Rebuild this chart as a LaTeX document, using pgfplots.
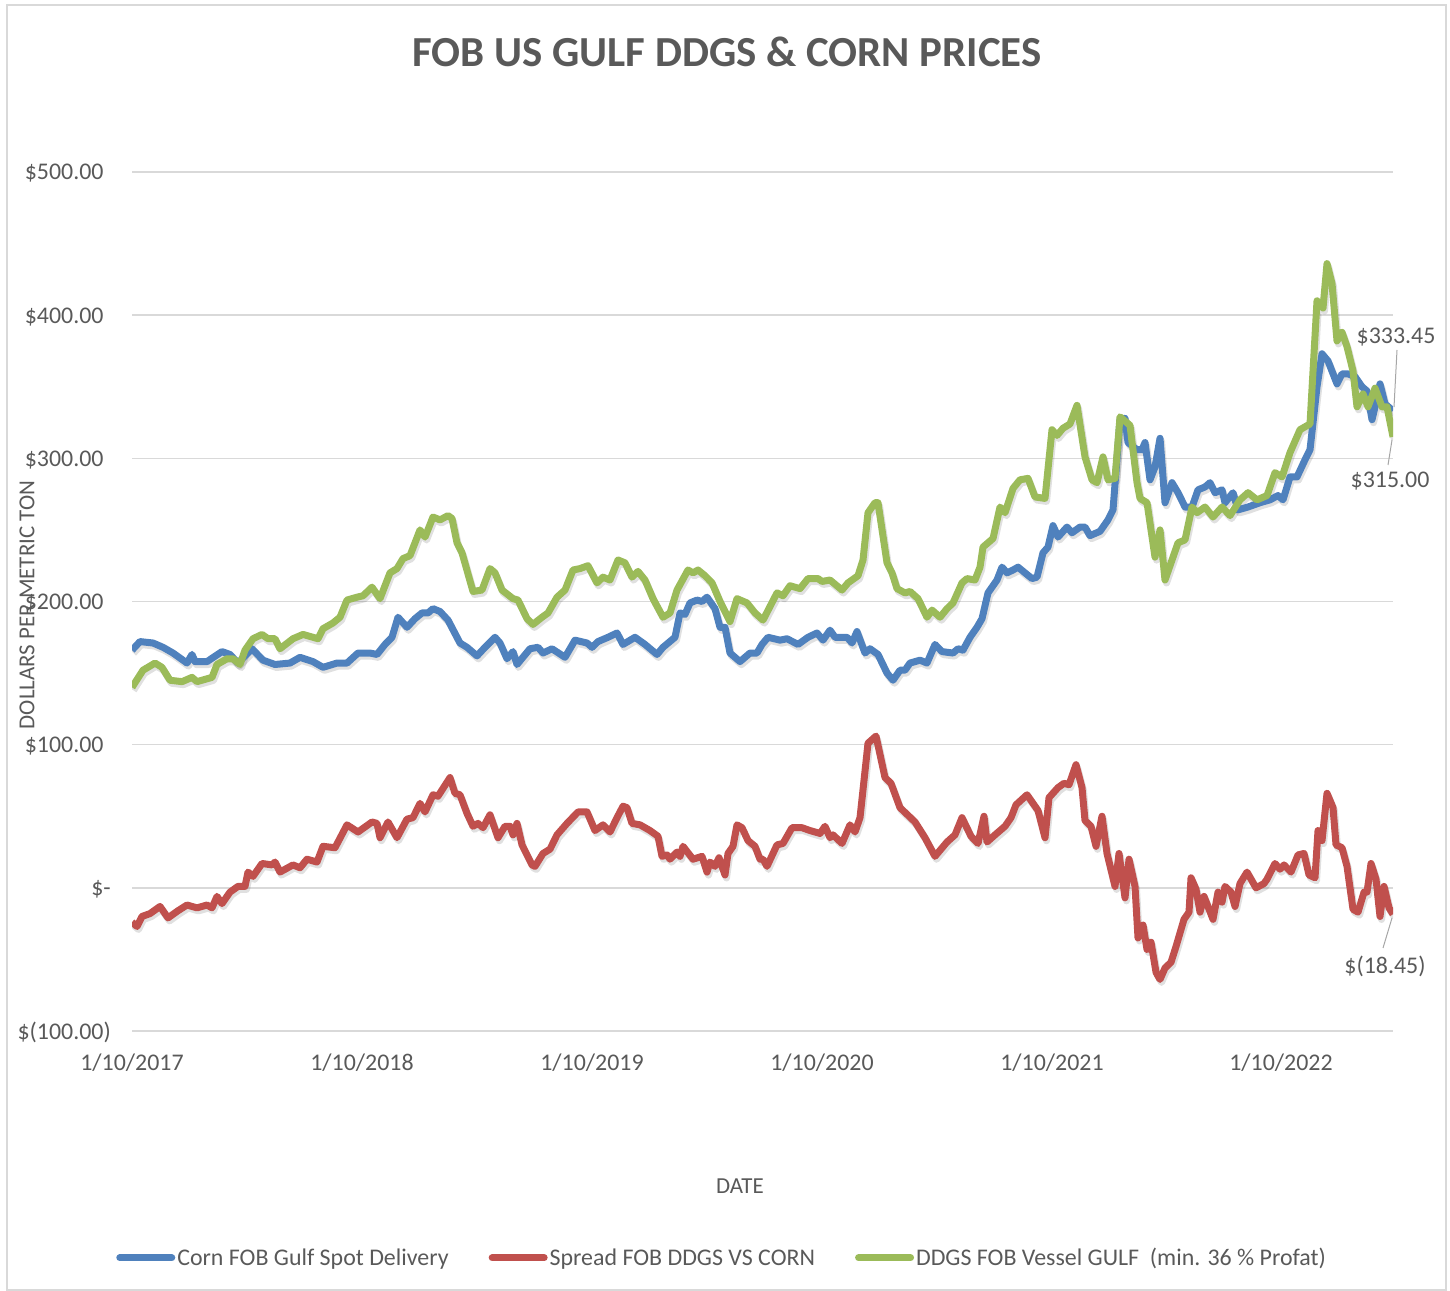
\documentclass[border=0pt]{standalone}
\usepackage{fontspec}
\setmainfont{Carlito}
\usepackage{pgfplots}
\usepackage{pgfplotstable}
\pgfplotsset{compat=1.18}
\definecolor{cornblue}{HTML}{4F81BD}
\definecolor{spreadred}{HTML}{C0504D}
\definecolor{ddgsgreen}{HTML}{9BBB59}
\definecolor{txtgray}{HTML}{595959}
\definecolor{gridgray}{HTML}{D9D9D9}

% x = horizontal position along the date axis (1/10/2017 at 132, one year = 230)
\pgfplotstableread{
x y
132 166
140 172
153 171
163 168
173 164
187 157
192 163
195 158
207 158
222 165
230 163
238 157
252 167
263 159
275 156
290 157
300 161
313 158
323 154
337 157
347 157
358 164
370 164
377 163
385 170
392 175
398 189
407 182
415 188
422 192
428 192
433 195
440 193
448 187
460 171
467 168
477 162
485 168
495 175
500 171
507 160
513 165
517 156
530 167
538 168
543 164
552 167
565 161
575 173
587 171
592 168
598 172
608 175
617 178
623 170
635 175
645 170
657 163
663 168
675 175
680 192
685 191
690 199
697 201
702 200
707 203
715 195
720 182
725 182
730 164
740 158
750 164
757 164
762 170
768 175
780 173
787 174
798 170
808 175
817 178
823 173
830 180
835 175
847 175
852 171
857 179
865 164
870 167
878 163
887 150
893 145
900 152
905 152
910 157
920 159
927 157
935 170
942 165
953 164
958 167
963 166
970 175
977 182
982 188
988 206
997 215
1002 224
1007 220
1013 222
1018 224
1032 216
1037 217
1043 234
1048 238
1053 253
1058 245
1067 252
1072 248
1080 252
1085 252
1090 246
1100 249
1108 257
1113 264
1120 327
1125 328
1128 311
1137 306
1142 306
1145 311
1150 285
1155 294
1160 314
1165 269
1172 283
1178 276
1185 266
1192 266
1198 278
1205 280
1210 283
1215 276
1222 278
1225 269
1233 276
1238 264
1248 266
1260 269
1270 271
1278 274
1283 271
1290 287
1297 287
1305 299
1310 306
1317 350
1322 373
1328 368
1337 352
1342 359
1348 359
1355 357
1362 350
1367 347
1372 327
1375 336
1380 352
1385 338
1390 335
1393 333.45
}\corn

\pgfplotstableread{
x y
132 -24
137 -27
142 -20
150 -18
160 -13
168 -21
178 -16
187 -12
197 -14
207 -12
212 -14
217 -6
222 -11
230 -3
238 1
245 1
248 11
253 8
262 17
272 16
275 18
280 11
293 16
300 14
307 20
317 18
323 29
335 28
347 44
358 39
372 46
377 45
380 35
388 46
397 35
407 48
413 49
420 59
425 53
433 65
438 64
450 77
455 66
460 65
467 52
473 43
478 45
483 42
490 51
498 35
505 43
510 43
513 37
517 45
522 30
532 16
535 15
543 24
550 27
557 37
567 45
578 53
587 53
595 40
603 44
610 39
617 49
623 57
627 56
632 45
640 44
650 40
658 36
662 22
667 23
670 20
677 25
680 22
683 29
693 20
702 22
707 11
710 18
715 15
719 21
725 9
728 24
733 29
737 44
742 42
748 33
755 29
760 20
763 20
767 15
777 30
783 31
792 42
802 42
810 40
820 38
825 43
830 35
833 37
842 31
850 44
855 39
860 49
868 101
876 106
885 77
891 73
900 56
915 46
925 35
935 22
947 32
955 37
962 49
971 36
978 31
984 50
987 32
995 37
1005 43
1011 49
1016 58
1027 65
1038 54
1045 35
1049 63
1058 70
1064 73
1069 72
1076 86
1082 70
1085 47
1091 43
1096 29
1102 50
1107 24
1115 1
1119 24
1125 -7
1129 20
1135 1
1138 -35
1143 -26
1147 -43
1151 -38
1156 -59
1160 -64
1165 -56
1171 -52
1176 -41
1184 -22
1189 -17
1191 7
1196 -1
1200 -17
1204 -6
1213 -22
1218 -3
1222 -10
1225 1
1231 -3
1235 -13
1240 3
1247 11
1256 0
1264 3
1267 6
1275 17
1280 13
1284 16
1291 11
1298 23
1304 24
1309 9
1315 7
1318 40
1322 33
1327 66
1333 56
1336 30
1342 28
1347 15
1353 -15
1358 -17
1364 -3
1367 -3
1371 17
1376 6
1380 -20
1384 1
1389 -14
1393 -18.45
}\spread

\pgfplotstableread{
x y
132 140
143 152
155 157
162 154
170 145
182 144
192 147
197 144
212 147
217 156
227 160
233 160
240 156
245 166
253 174
262 177
268 174
275 174
280 167
293 174
303 177
318 174
323 181
333 185
340 189
347 201
357 203
363 204
372 210
380 202
390 220
397 223
403 230
410 232
420 250
425 245
433 259
440 257
448 260
452 258
457 241
462 234
473 207
482 208
490 223
495 220
502 208
513 202
518 201
527 188
533 184
542 189
548 192
557 203
565 208
573 222
580 223
588 225
597 213
603 217
610 215
618 229
625 227
632 217
638 221
645 215
653 202
663 189
670 192
677 208
688 222
693 220
698 222
705 218
712 213
720 200
730 186
737 202
747 199
755 192
763 187
777 206
783 204
790 211
800 209
808 216
818 216
822 214
830 215
842 208
848 213
858 218
863 229
868 262
875 269
878 269
887 227
892 220
897 209
905 206
910 207
918 202
927 189
932 194
940 189
947 195
953 199
962 213
967 216
975 215
980 224
983 238
993 244
1000 266
1005 262
1013 279
1020 285
1028 286
1035 273
1045 272
1052 320
1057 316
1063 321
1070 324
1077 337
1085 301
1092 285
1097 283
1103 301
1108 285
1115 286
1120 329
1130 323
1137 283
1140 272
1147 269
1155 231
1160 250
1165 215
1172 229
1178 241
1185 243
1192 266
1197 262
1205 266
1213 259
1222 266
1230 260
1240 271
1248 276
1257 271
1267 274
1275 290
1282 287
1290 304
1300 320
1310 324
1317 410
1323 405
1327 436
1332 422
1337 382
1342 388
1347 378
1353 361
1357 336
1363 345
1368 336
1375 349
1382 336
1387 336
1393 315
}\ddgs

\begin{document}
\begin{tikzpicture}
\useasboundingbox (0bp,0bp) rectangle (1450bp,1291bp);
\draw[gridgray, line width=1.5bp] (7bp,1bp) rectangle (1446bp,1286bp);
\node[txtgray, font=\fontsize{43}{50}\selectfont\bfseries] at (727bp,1239bp) {FOB US GULF DDGS \& CORN PRICES};
\node[txtgray, rotate=90, font=\fontsize{23}{28}\selectfont] at (27bp,686bp) {DOLLARS PER METRIC TON};
\node[txtgray, font=\fontsize{23}{28}\selectfont] at (740bp,105bp) {DATE};

\begin{axis}[
  at={(132bp,260bp)}, anchor=south west,
  scale only axis, width=1261bp, height=859bp,
  xmin=132, xmax=1393, ymin=-100, ymax=500,
  axis line style={draw=none},
  major tick length=0pt,
  xtick={132,362,592,822,1052,1281},
  xticklabels={1/10/2017,1/10/2018,1/10/2019,1/10/2020,1/10/2021,1/10/2022},
  ytick={-100,0,100,200,300,400,500},
  yticklabels={\$(100.00),\$-\hspace{13bp},\$100.00\phantom{)},\$200.00\phantom{)},\$300.00\phantom{)},\$400.00\phantom{)},\$500.00\phantom{)}},
  ymajorgrids, grid style={gridgray, line width=1.5bp},
  tick label style={txtgray, font=\fontsize{24}{29}\selectfont, inner sep=0pt},
  xticklabel style={anchor=base, yshift=-39bp},
  yticklabel style={anchor=base east, xshift=-21bp, yshift=-8bp},
  legend style={at={(0.468,-0.264)}, anchor=center, draw=none, fill=none,
    legend columns=3, font=\fontsize{24}{29}\selectfont, text=txtgray,
    /tikz/every even column/.append style={column sep=38bp}},
  legend image code/.code={\draw[#1, line width=7bp, line cap=round] (0bp,0bp) -- (52bp,0bp);},
  legend cell align=left,
  every axis plot/.append style={line width=7bp, line join=round, mark=none},
]
% soft shadows under the lines
\addplot[black, opacity=0.12, forget plot, shift={(1.5bp,-3bp)}] table {\corn};
\addplot[black, opacity=0.12, forget plot, shift={(1.5bp,-3bp)}] table {\spread};
\addplot[black, opacity=0.12, forget plot, shift={(1.5bp,-3bp)}] table {\ddgs};

\addplot[cornblue] table {\corn};
\addlegendentry{Corn FOB Gulf Spot Delivery}
\addplot[spreadred] table {\spread};
\addlegendentry{Spread FOB DDGS VS CORN}
\addplot[ddgsgreen] table {\ddgs};
\addlegendentry{DDGS FOB Vessel GULF\ \ (min. 36 \% Profat)}
\end{axis}

\draw[gray!70, line width=1bp] (1394bp,884bp) -- (1397bp,941bp);
\node[txtgray, font=\fontsize{24}{29}\selectfont] at (1396bp,954bp) {\$333.45};
\draw[gray!70, line width=1bp] (1392bp,851bp) -- (1388bp,826bp);
\node[txtgray, font=\fontsize{24}{29}\selectfont] at (1390bp,810bp) {\$315.00};
\draw[gray!70, line width=1bp] (1392bp,373bp) -- (1383bp,343bp);
\node[txtgray, font=\fontsize{24}{29}\selectfont] at (1385bp,325bp) {\$(18.45)};
\end{tikzpicture}
\end{document}
